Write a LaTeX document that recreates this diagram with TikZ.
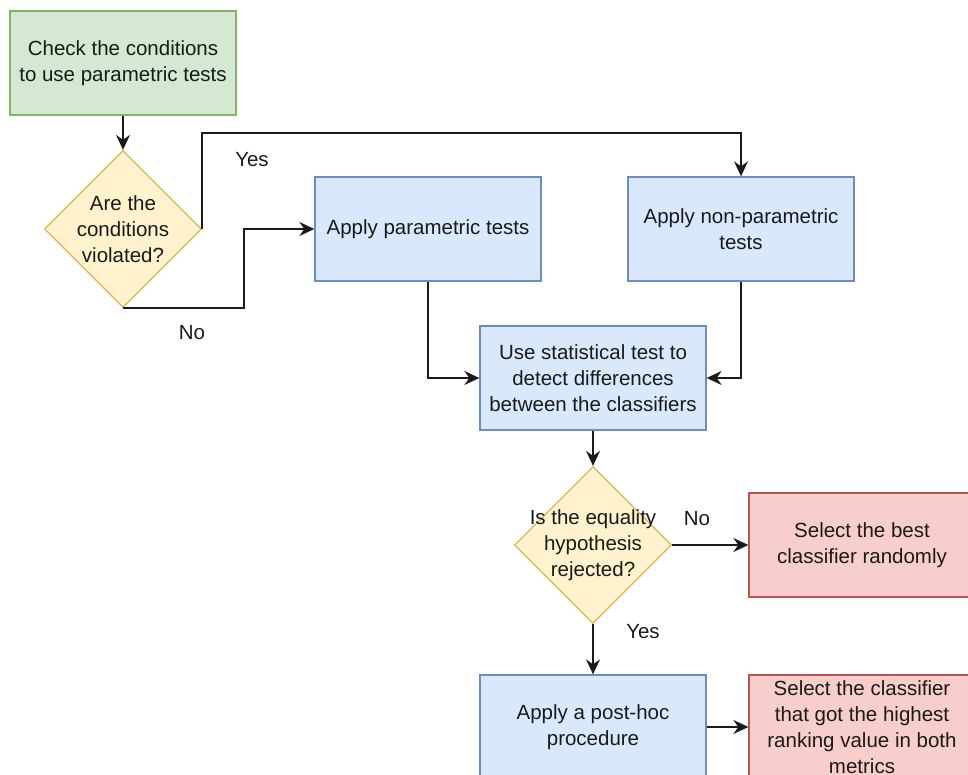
\documentclass[tikz,border=0pt]{standalone}
\usepackage{fontspec}
\setmainfont{Liberation Sans}
\usetikzlibrary{arrows.meta,shapes.geometric,calc}

\definecolor{greenfill}{HTML}{D5E8D4}
\definecolor{greenline}{HTML}{82B366}
\definecolor{bluefill}{HTML}{DAE8FC}
\definecolor{blueline}{HTML}{6C8EBF}
\definecolor{yellowfill}{HTML}{FFF2CC}
\definecolor{yellowline}{HTML}{D6B656}
\definecolor{redfill}{HTML}{F8CECC}
\definecolor{redline}{HTML}{B85450}
\definecolor{ink}{HTML}{1A1A1A}

\tikzset{
  every node/.style={font=\fontsize{20.5}{26}\selectfont, text=ink},
  box/.style={rectangle, draw, line width=1.3pt, minimum width=226pt,
              minimum height=104pt, inner sep=0pt, align=center},
  startbox/.style={box, fill=greenfill, draw=greenline},
  taskbox/.style={box, fill=bluefill, draw=blueline},
  endbox/.style={box, fill=redfill, draw=redline},
  decision/.style={diamond, draw=yellowline, fill=yellowfill, line width=1.3pt,
                   minimum width=157pt, minimum height=157pt, inner sep=0pt,
                   shape aspect=1},
  dtext/.style={align=center, inner sep=0pt},
  arr/.style={draw=ink, line width=1.6pt,
              -{Stealth[length=15pt,width=14pt,inset=5pt]}},
  tag/.style={inner sep=0pt}
}

\begin{document}
\begin{tikzpicture}[x=1pt,y=-1pt]
  \useasboundingbox (0,0) rectangle (968,775);
  \clip (0,0) rectangle (968,775);

  % process steps
  \node[startbox] (start) at (123,63) {Check the conditions\\to use parametric tests};
  \node[decision] (d1) at (123,229) {};
  \node[dtext] (d1t) at (123,229) {Are the\\conditions\\violated?};
  \node[taskbox] (pt) at (428,229) {Apply parametric tests};
  \node[taskbox] (np) at (741,229) {Apply non-parametric\\tests};
  \node[taskbox] (st) at (593,378) {Use statistical test to\\detect differences\\between the classifiers};
  \node[decision] (d2) at (593,545) {};
  \node[dtext] (d2t) at (593,545) {Is the equality\\hypothesis\\rejected?};
  \node[endbox] (r1) at (862,545) {Select the best\\classifier randomly};
  \node[taskbox] (ph) at (593,727) {Apply a post-hoc\\procedure};
  \node[endbox] (r2) at (862,727) {Select the classifier\\that got the highest\\ranking value in both\\metrics};

  % bend points of the routed connectors
  \coordinate (yesrow) at (0,133);
  \coordinate (nocol) at (244,0);

  % connectors
  \draw[arr] (start.south) -- (d1.north);
  \draw[arr] (d1.east) |- (np.north |- yesrow) -- (np.north);
  \draw[arr] (d1.south) -| (nocol |- pt.west) -- (pt.west);
  \draw[arr] (pt.south) |- (st.west);
  \draw[arr] (np.south) |- (st.east);
  \draw[arr] (st.south) -- (d2.north);
  \draw[arr] (d2.east) -- (r1.west);
  \draw[arr] (d2.south) -- (ph.north);
  \draw[arr] (ph.east) -- (r2.west);

  % branch labels
  \node[tag] (yes1) at (252,160) {Yes};
  \node[tag] (no1) at (192,333) {No};
  \node[tag] (no2) at (697,519) {No};
  \node[tag] (yes2) at (643,632) {Yes};
\end{tikzpicture}
\end{document}
